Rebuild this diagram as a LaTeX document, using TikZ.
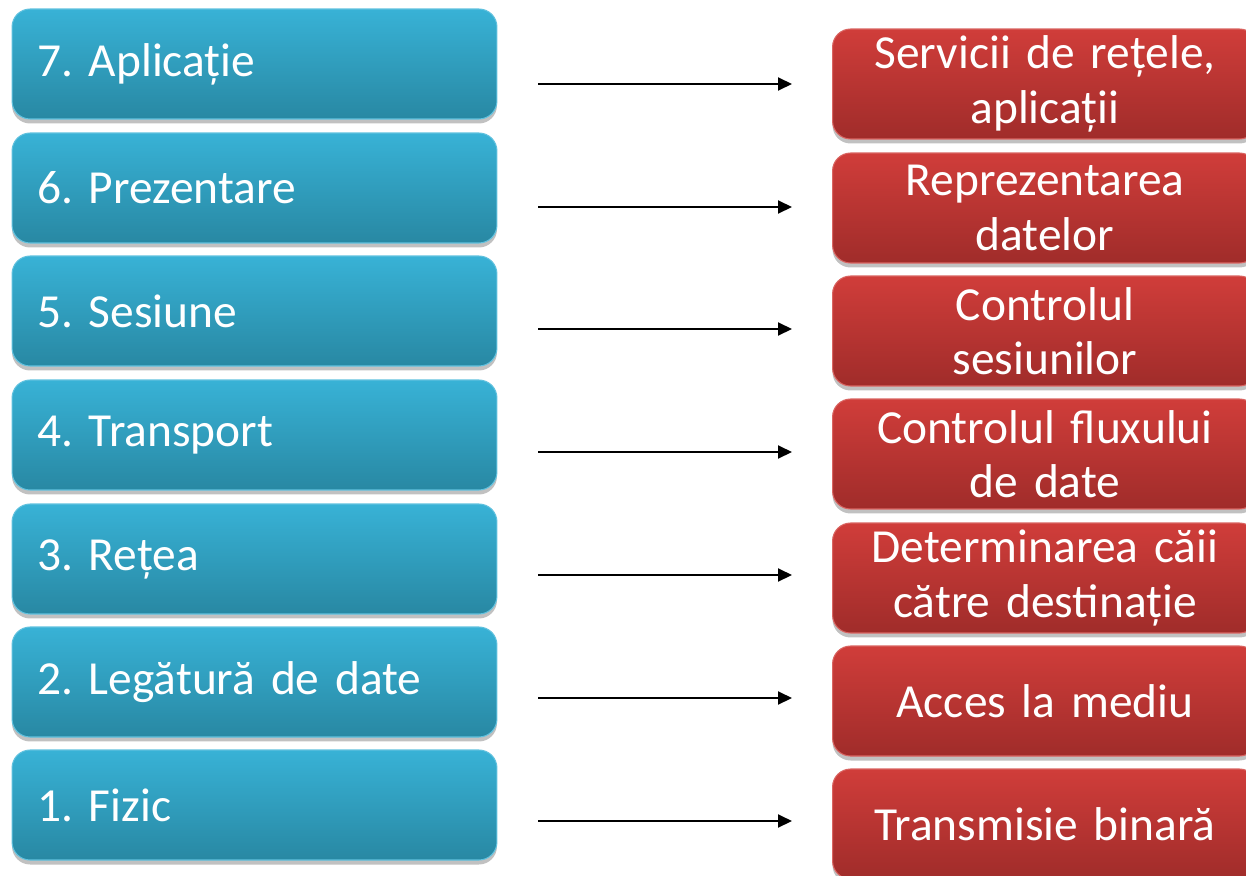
\documentclass[tikz,border=0pt]{standalone}
\usepackage{fontspec}
\setmainfont{Carlito}
\usepackage{tikz}
\usetikzlibrary{arrows.meta,shadows}
\frenchspacing

\definecolor{layertop}{RGB}{56,178,214}
\definecolor{layerbot}{RGB}{40,136,163}
\definecolor{roletop}{RGB}{208,61,58}
\definecolor{rolebot}{RGB}{160,44,42}

\newcommand{\boxfont}{\fontsize{27}{31}\selectfont\spaceskip=0.17em\relax}

\tikzset{
  layer/.style={rounded corners=0.36cm, minimum width=9.7cm, minimum height=2.2cm,
    text width=8.7cm, align=left, inner xsep=0.5cm, text=white,
    top color=layertop, bottom color=layerbot, draw=layertop!80!white, line width=0.6pt,
    drop shadow={shadow xshift=0pt, shadow yshift=-0.09cm, opacity=0.35, fill=black!70},
    font=\boxfont},
  role/.style={rounded corners=0.36cm, minimum width=8.5cm, minimum height=2.2cm,
    text width=8.2cm, align=center, inner xsep=0.1cm, text=white,
    top color=roletop, bottom color=rolebot, draw=roletop!80!white, line width=0.6pt,
    drop shadow={shadow xshift=0pt, shadow yshift=-0.09cm, opacity=0.35, fill=black!70},
    font=\boxfont},
  link/.style={line width=1.1pt, -{Triangle[length=0.28cm,width=0.26cm]}}
}

\begin{document}
\begin{tikzpicture}[x=0.02cm, y=-0.02cm]
  \useasboundingbox (0,0) rectangle (1246,875);

  % OSI layers
  \node[layer] (l7) at (254.5,64) {7. Aplicație};
  \node[layer] (l6) at (254.5,188) {6. Prezentare};
  \node[layer] (l5) at (254.5,311) {5. Sesiune};
  \node[layer] (l4) at (254.5,435) {4. Transport};
  \node[layer] (l3) at (254.5,559) {3. Rețea};
  \node[layer] (l2) at (254.5,682) {2. Legătură de date};
  \node[layer] (l1) at (254.5,805) {1. Fizic};

  % what each layer does
  \node[role] (r7) at (1045,84) {Servicii de rețele,\\aplicații};
  \node[role] (r6) at (1045,208) {Reprezentarea\\datelor};
  \node[role] (r5) at (1045,331) {Controlul\\sesiunilor};
  \node[role] (r4) at (1045,454) {Controlul fluxului\\de date};
  \node[role] (r3) at (1045,578) {Determinarea căii\\către destinație};
  \node[role] (r2) at (1045,701) {Acces la mediu};
  \node[role] (r1) at (1045,824) {Transmisie binară};

  % arrows
  \coordinate (a7) at (538,84);  \coordinate (b7) at (792,84);
  \coordinate (a6) at (538,207); \coordinate (b6) at (792,207);
  \coordinate (a5) at (538,329); \coordinate (b5) at (792,329);
  \coordinate (a4) at (538,452); \coordinate (b4) at (792,452);
  \coordinate (a3) at (538,575); \coordinate (b3) at (792,575);
  \coordinate (a2) at (538,698); \coordinate (b2) at (792,698);
  \coordinate (a1) at (538,821); \coordinate (b1) at (792,821);
  \draw[link] (a7) -- (b7);
  \draw[link] (a6) -- (b6);
  \draw[link] (a5) -- (b5);
  \draw[link] (a4) -- (b4);
  \draw[link] (a3) -- (b3);
  \draw[link] (a2) -- (b2);
  \draw[link] (a1) -- (b1);
\end{tikzpicture}
\end{document}
